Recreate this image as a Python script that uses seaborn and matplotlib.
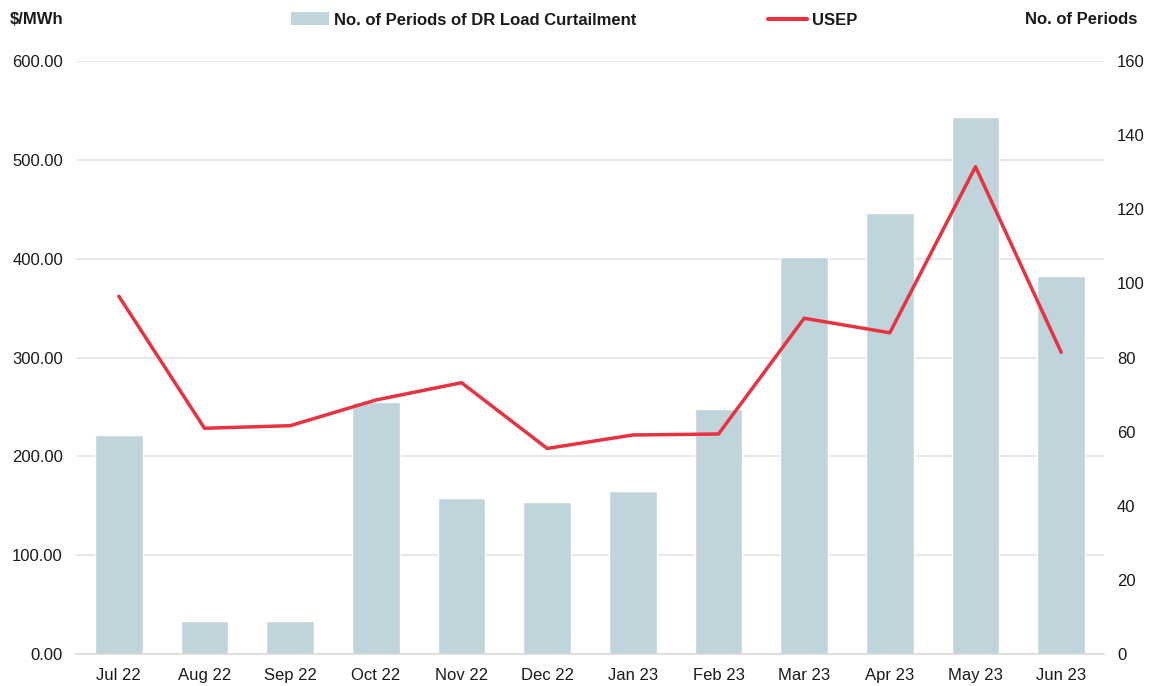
import numpy as np
import pandas as pd
import matplotlib
matplotlib.use("Agg")
import matplotlib.pyplot as plt
import seaborn as sns
from matplotlib.patches import Patch
from matplotlib.lines import Line2D

months = ["Jul 22", "Aug 22", "Sep 22", "Oct 22", "Nov 22", "Dec 22",
          "Jan 23", "Feb 23", "Mar 23", "Apr 23", "May 23", "Jun 23"]
dr_periods = [59, 9, 9, 68, 42, 41, 44, 66, 107, 119, 145, 102]
usep = [362.0, 228.4, 231.0, 257.0, 274.5, 208.0, 221.6, 222.6, 339.7, 325.0, 493.0, 305.3]

left_ticks = [0, 100, 200, 300, 400, 500, 600]
right_ticks = [0, 20, 40, 60, 80, 100, 120, 140, 160]

bar_color = "#C0D4DC"
line_color = "#E8323F"
grid_color = "#E3E3E3"
text_color = "#1A1A1A"
FS = 12

sns.set_style("white")
plt.rcParams["font.family"] = ["Liberation Sans", "DejaVu Sans"]

W, H = 1156, 686
fig = plt.figure(figsize=(W / 100, H / 100), dpi=100)
ax_bar = fig.add_axes([76 / W, (H - 654) / H, (1104 - 76) / W, (654 - 61) / H])
ax = ax_bar.twinx()

df = pd.DataFrame({"month": months, "periods": dr_periods, "usep": usep})

# Bars on right scale
sns.barplot(data=df, x="month", y="periods", ax=ax_bar, color=bar_color,
            width=0.56, saturation=1, zorder=2)
ax_bar.set_ylim(0, 160)
ax_bar.set_xlim(-0.5, len(months) - 0.5)
ax_bar.yaxis.tick_right()
ax_bar.yaxis.remove_overlapping_locs = False
ax_bar.set_yticks(right_ticks)
ax_bar.set_yticklabels([str(t) for t in right_ticks])
# gridlines at left-axis values
ax_bar.set_yticks([t * 160 / 600 for t in left_ticks], minor=True)
ax_bar.yaxis.grid(True, which="minor", color=grid_color, linewidth=1.2, zorder=0)
ax_bar.yaxis.grid(False, which="major")
ax_bar.set_axisbelow(True)
ax_bar.tick_params(axis="y", which="both", length=0, labelsize=FS, colors=text_color, pad=9.4)
ax_bar.set_xlabel("")
ax_bar.set_ylabel("")
ax_bar.set_xticks(range(len(months)))
ax_bar.set_xticklabels(months)
ax_bar.set_xticks(np.arange(-0.5, len(months), 1.0), minor=True)
ax_bar.tick_params(axis="x", which="major", length=0, labelsize=FS, colors=text_color, pad=18.5)
ax_bar.tick_params(axis="x", which="minor", length=6, color="#D0D0D0", width=1)
for lbl in ax_bar.get_xticklabels():
    lbl.set_verticalalignment("baseline")
for s in ["top", "left", "right"]:
    ax_bar.spines[s].set_visible(False)
ax_bar.spines["bottom"].set_color("#D9D9D9")
ax_bar.spines["bottom"].set_linewidth(1.2)

# Line on left scale
sns.lineplot(x=np.arange(len(months)), y=usep, ax=ax, color=line_color, linewidth=2.5)
ax.set_ylim(0, 600)
ax.yaxis.tick_left()
ax.set_yticks(left_ticks)
ax.set_yticklabels([f"{t:.2f}" for t in left_ticks])
ax.tick_params(axis="y", length=0, labelsize=FS, colors=text_color, pad=9.4)
ax.set_ylabel("")
for s in ["top", "left", "right", "bottom"]:
    ax.spines[s].set_visible(False)

# Titles of axes
fig.text(10 / W, 1 - 20 / H, "$/MWh", fontsize=FS, fontweight="bold",
         ha="left", va="center", color=text_color)
fig.text(1137 / W, 1 - 20 / H, "No. of Periods", fontsize=FS, fontweight="bold",
         ha="right", va="center", color=text_color)

# Legend
handles = [Patch(facecolor=bar_color, edgecolor="none"),
           Line2D([0], [0], color=line_color, linewidth=3)]
labels = ["No. of Periods of DR Load Curtailment", "USEP"]
leg = fig.legend(handles, labels, ncol=2, loc="center",
                 bbox_to_anchor=(574 / W, 1 - 20 / H), frameon=False,
                 handlelength=2.3, handleheight=0.8, handletextpad=0.3,
                 columnspacing=7.9,
                 prop={"size": FS, "weight": "bold"})
for t in leg.get_texts():
    t.set_color(text_color)

fig.savefig("out.png", dpi=100, facecolor="white")
